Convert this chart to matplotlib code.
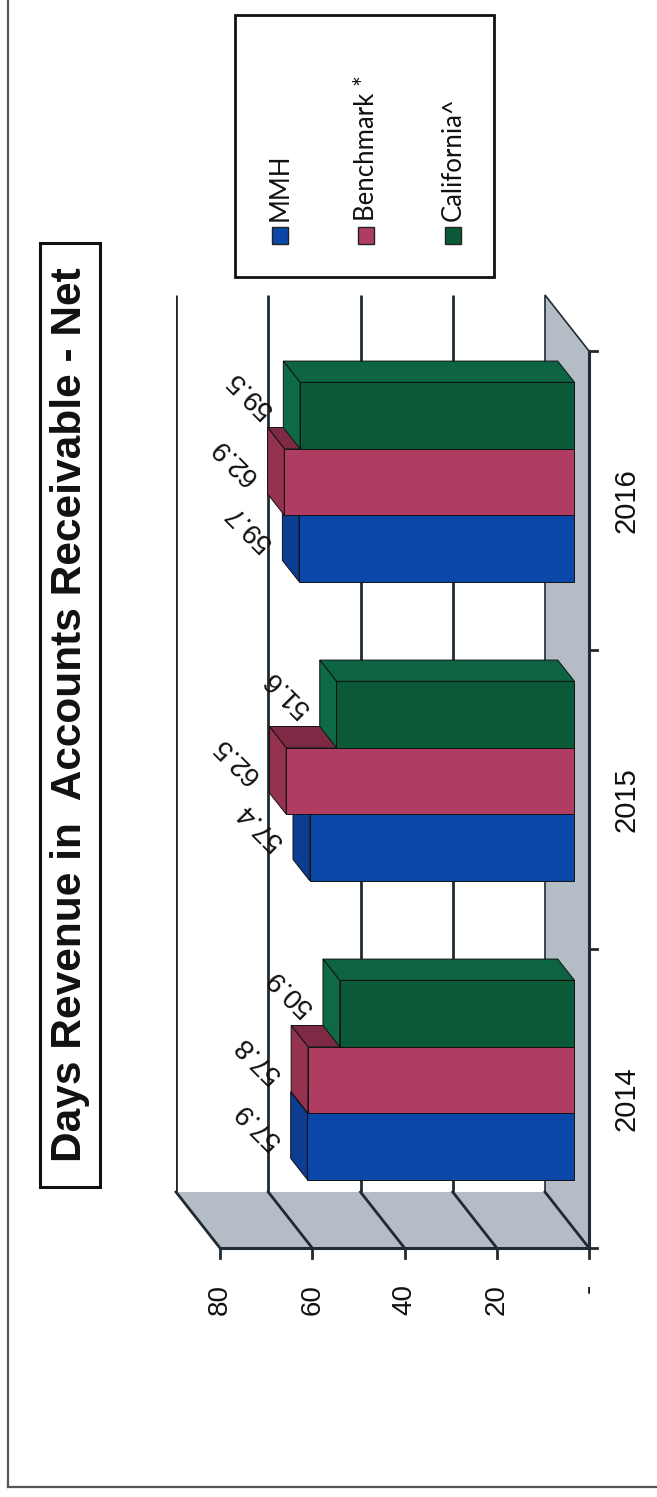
import matplotlib
matplotlib.use("Agg")
import matplotlib.pyplot as plt
from matplotlib.patches import Polygon, Rectangle
from matplotlib.transforms import offset_copy

# ---------------- data ----------------
years = ["2014", "2015", "2016"]
series_names = ["MMH", "Benchmark *", "California^"]
mmh = [57.9, 57.4, 59.7]
benchmark = [57.8, 62.5, 62.9]
california = [50.9, 51.6, 59.5]
value_ticks = [80, 60, 40, 20, 0]
value_tick_labels = ["80", "60", "40", "20", "-"]
title = "Days Revenue in  Accounts Receivable - Net"

# ---------------- style ----------------
front_cols = ["#0a47a9", "#b03c62", "#0a5a38"]
left_cols = ["#0b3d92", "#95324f", "#0d6a45"]
side_cols = ["#08368a", "#7e2a44", "#0c6443"]
wall_col = "#b4bdc5"
line_col = "#1f2a33"

W, H = 657, 1497
fig = plt.figure(figsize=(W / 100, H / 100), dpi=100)

# axes = back wall of the (rotated) 3-D chart
ax = fig.add_axes([176 / W, 1 - 1192 / H, 369 / W, 897 / H])
ax.set_xlim(80, 0)
ax.set_ylim(-0.5, 2.5)
ax.axis("off")

# depth vector (back -> front) in data units
DX = -44 / (369 / 80)
DY = -56 / 299
T_FRONT, T_BACK = 0.67, 0.29
n = len(series_names)
bw = 1 / (n + 1.5)

# floor (right strip) and side wall (bottom strip)
ax.add_patch(Polygon([(0, -0.5), (0, 2.5), (DX, 2.5 + DY), (DX, -0.5 + DY)],
                     closed=True, fc=wall_col, ec=line_col, lw=1.2, zorder=1, clip_on=False))
ax.add_patch(Polygon([(80, -0.5), (0, -0.5), (DX, -0.5 + DY), (80 + DX, -0.5 + DY)],
                     closed=True, fc=wall_col, ec="none", zorder=1, clip_on=False))
for v in value_ticks:
    ax.plot([v, v + DX], [-0.5, -0.5 + DY], color=line_col, lw=2, zorder=2, clip_on=False)
# back wall gridlines
ax.vlines([v for v in value_ticks if v > 0], -0.5, 2.5, color=line_col, lw=2, zorder=2)
# front edges (axes lines)
ax.plot([80 + DX, DX], [-0.5 + DY, -0.5 + DY], color=line_col, lw=2.2, zorder=2, clip_on=False)
ax.plot([DX, DX], [-0.5 + DY, 2.5 + DY], color=line_col, lw=2.2, zorder=2, clip_on=False)
# ticks
tk_v = 10 / 299
for v in value_ticks:
    ax.plot([v + DX, v + DX], [-0.5 + DY, -0.5 + DY - tk_v], color=line_col, lw=2, zorder=2, clip_on=False)
tk_h = 8 / (369 / 80)
for b in [-0.5, 0.5, 1.5, 2.5]:
    ax.plot([DX, DX - tk_h], [b + DY, b + DY], color=line_col, lw=2, zorder=2, clip_on=False)

# tick labels
tr_val = offset_copy(ax.transData, fig=fig, x=0, y=-36, units="dots")
for v, lab in zip(value_ticks, value_tick_labels):
    ax.text(v + DX, -0.5 + DY, lab, transform=tr_val, rotation=90, ha="center", va="top",
            fontsize=20, family="Liberation Sans", color="#111111")
tr_cat = offset_copy(ax.transData, fig=fig, x=38, y=0, units="dots")
for i, yr in enumerate(years):
    ax.text(DX, i + DY, yr, transform=tr_cat, rotation=90, ha="center", va="center",
            fontsize=21, family="Liberation Sans", color="#111111")

# bars
data = [mmh, benchmark, california]
z = 5
for i in range(len(years)):
    for s in range(n):
        v = data[s][i]
        yc = i + (s - (n - 1) / 2) * bw
        y0, y1 = yc - bw / 2, yc + bw / 2
        # side face (above the front face in image)
        ax.add_patch(Polygon([(T_FRONT * DX, y1 + T_FRONT * DY), (v + T_FRONT * DX, y1 + T_FRONT * DY),
                              (v + T_BACK * DX, y1 + T_BACK * DY), (T_BACK * DX, y1 + T_BACK * DY)],
                             closed=True, fc=side_cols[s], ec="#111111", lw=0.7, zorder=z, clip_on=False))
        # top face (left of the front face in image)
        ax.add_patch(Polygon([(v + T_FRONT * DX, y0 + T_FRONT * DY), (v + T_FRONT * DX, y1 + T_FRONT * DY),
                              (v + T_BACK * DX, y1 + T_BACK * DY), (v + T_BACK * DX, y0 + T_BACK * DY)],
                             closed=True, fc=left_cols[s], ec="#111111", lw=0.7, zorder=z, clip_on=False))
        # front face
        ax.barh(yc + T_FRONT * DY, v, height=bw, left=T_FRONT * DX, color=front_cols[s],
                edgecolor="#111111", linewidth=0.7, zorder=z + 0.5, clip_on=False)
        # value label
        ax.text(v + T_BACK * DX + 7.2, yc + T_BACK * DY, f"{v:.1f}", rotation=135,
                rotation_mode="anchor", ha="center", va="center", fontsize=20,
                family="Liberation Sans", color="#111111", zorder=20)
        z += 1

# title box
fig.patches.append(Rectangle((40 / W, 1 - 1187 / H), 60 / W, 944 / H, transform=fig.transFigure,
                             fill=False, ec="#111111", lw=2.2))
fig.text(70 / W, 1 - 715 / H, title, rotation=90, ha="center", va="center",
         fontsize=30.5, fontweight="bold", family="Liberation Sans", color="#111111")

# legend box
fig.patches.append(Rectangle((235 / W, 1 - 277 / H), 259 / W, 262 / H, transform=fig.transFigure,
                             fill=False, ec="#111111", lw=2))
leg_x = [280, 366, 453]
for s in range(n):
    fig.patches.append(Rectangle(((leg_x[s] - 8) / W, 1 - 244 / H), 16 / W, 17 / H,
                                 transform=fig.transFigure, fc=front_cols[s], ec="#222222", lw=1))
    fig.text(leg_x[s] / W, 1 - 221 / H, series_names[s], rotation=90, rotation_mode="anchor",
             ha="left", va="center", fontsize=18.5, family="Lato", color="#111111")

# outer frame
fig.lines.append(plt.Line2D([8 / W, 8 / W], [1, 1 - 1487 / H], transform=fig.transFigure,
                            color="#555555", lw=1.6))
fig.lines.append(plt.Line2D([8 / W, 1], [1 - 1487 / H, 1 - 1487 / H], transform=fig.transFigure,
                            color="#555555", lw=1.6))

fig.savefig("out.png", dpi=100)
